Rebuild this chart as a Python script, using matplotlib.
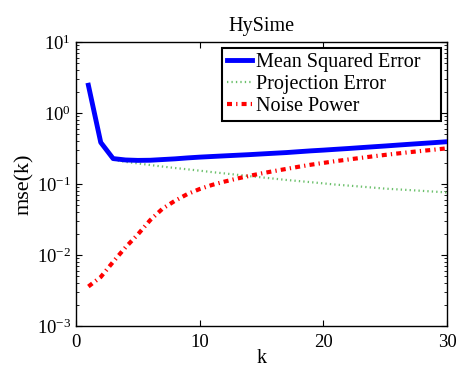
import matplotlib
matplotlib.use("Agg")
import matplotlib.pyplot as plt
from matplotlib.ticker import LogLocator, NullFormatter

plt.rcParams['font.family'] = ['Liberation Serif', 'DejaVu Serif']
plt.rcParams['mathtext.fontset'] = 'custom'
plt.rcParams['mathtext.rm'] = 'Liberation Serif'
plt.rcParams['mathtext.it'] = 'Liberation Serif:italic'

k = list(range(1, 31))
mse = [2.46, 0.385, 0.228, 0.218, 0.215, 0.216, 0.221, 0.226, 0.233, 0.239,
       0.244, 0.249, 0.254, 0.259, 0.265, 0.271, 0.277, 0.285, 0.293, 0.300,
       0.308, 0.316, 0.325, 0.334, 0.343, 0.353, 0.363, 0.373, 0.383, 0.394]
proj = [2.45, 0.38, 0.22, 0.205, 0.195, 0.185, 0.176, 0.168, 0.161, 0.154,
        0.147, 0.141, 0.135, 0.129, 0.124, 0.119, 0.114, 0.110, 0.106, 0.102,
        0.098, 0.095, 0.092, 0.089, 0.086, 0.084, 0.082, 0.080, 0.078, 0.076]
noise = [0.0036, 0.0049, 0.0080, 0.0128, 0.0195, 0.031, 0.045, 0.058, 0.072, 0.085,
         0.097, 0.108, 0.119, 0.130, 0.141, 0.152, 0.163, 0.175, 0.187, 0.198,
         0.210, 0.221, 0.233, 0.245, 0.257, 0.269, 0.281, 0.293, 0.305, 0.318]
labels = ['Mean Squared Error', 'Projection Error', 'Noise Power']

fig = plt.figure(figsize=(4.59, 3.67), dpi=100)
ax = fig.add_axes([0.1656, 0.1117, 0.8084, 0.7739])

ax.semilogy(k, mse, color='#0000ff', lw=3.5, label=labels[0] + '   ', zorder=3)
ax.semilogy(k, proj, color='#6cc06c', lw=1.6, linestyle=(0, (0.6, 1.4)), label=labels[1], zorder=2)
ax.semilogy(k, noise, color='#ff0000', lw=3.0, linestyle=(0, (1.2, 1.0, 0.3, 1.0)), label=labels[2], zorder=2)

ax.set_xlim(0, 30)
ax.set_ylim(1e-3, 1e1)
ax.set_xticks([0, 10, 20, 30])
ax.yaxis.set_major_locator(LogLocator(base=10, numticks=10))
ax.yaxis.set_minor_locator(LogLocator(base=10, subs=range(2, 10), numticks=20))
ax.yaxis.set_minor_formatter(NullFormatter())
ax.tick_params(which='both', direction='in', top=True, right=True, labelsize=13.5)
ax.tick_params(which='major', length=4, width=0.8)
ax.tick_params(which='minor', length=2, width=0.6)
ax.tick_params(axis='x', pad=6)
for s in ax.spines.values():
    s.set_linewidth(1.0)

ax.set_title('HySime', fontsize=14.5, pad=8)
ax.set_xlabel('k', fontsize=14.5, labelpad=-2)
ax.set_ylabel('mse(k)', fontsize=16, labelpad=2)

leg = ax.legend(loc='upper right', fontsize=14.5, frameon=True, fancybox=False,
                framealpha=1, edgecolor='black', borderpad=0.25, labelspacing=0.15,
                handlelength=1.25, handletextpad=0.2, borderaxespad=0.3)
leg.get_frame().set_linewidth(1.5)

fig.savefig('out.png', dpi=100)
